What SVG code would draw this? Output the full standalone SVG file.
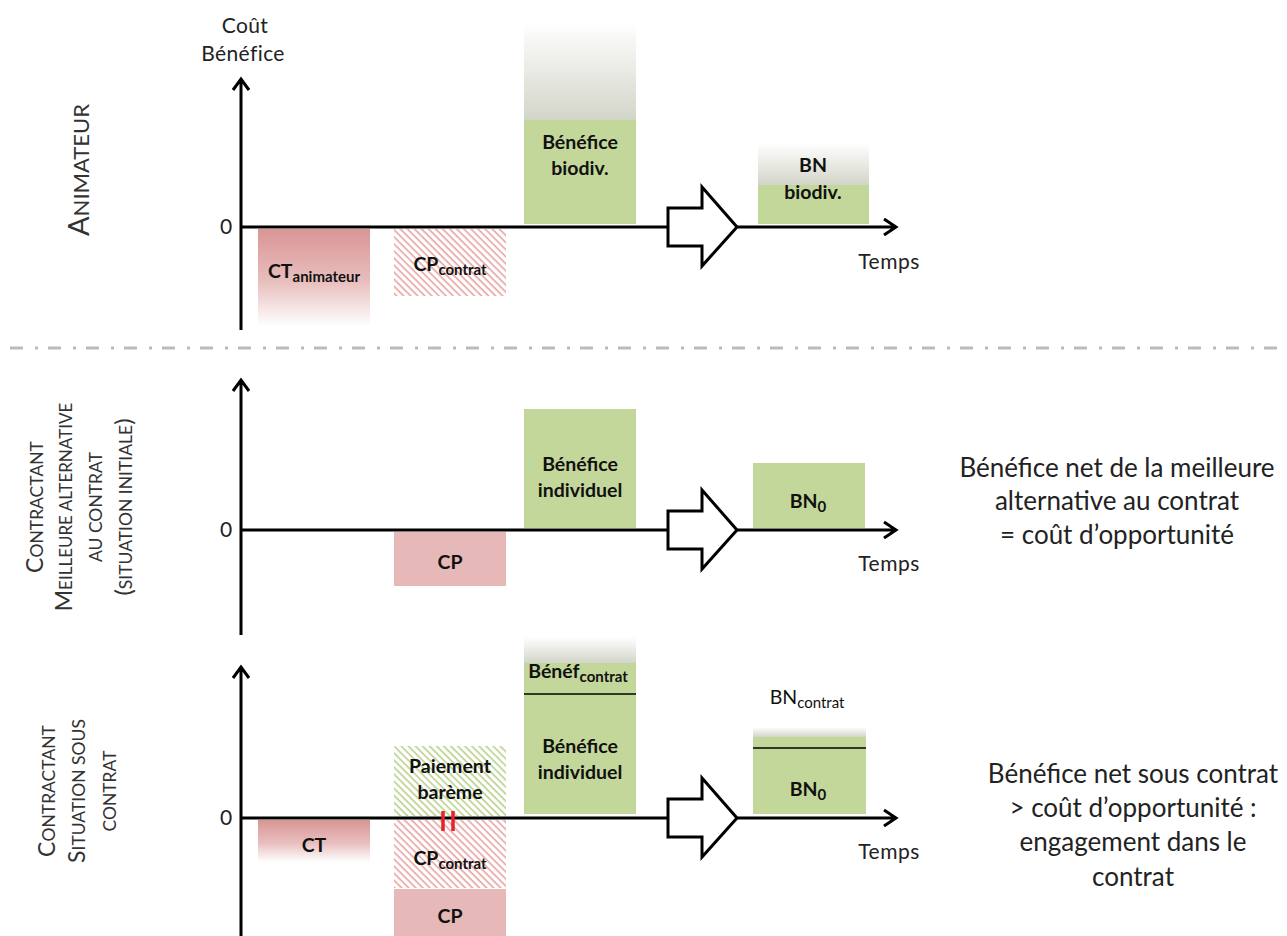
<svg xmlns="http://www.w3.org/2000/svg" width="1287" height="936" viewBox="0 0 1287 936">
<style>
text{font-family:Lato,"Liberation Sans",sans-serif;fill:#111}
.lbl{font-size:21px;fill:#222}
.b{font-weight:bold;font-size:19.5px;text-anchor:middle}
.n{font-weight:normal}
.sub{font-size:15px}
.side{font-size:26px;text-anchor:middle;fill:#222}
.rot{fill:#333;text-anchor:middle}
.ax{stroke:#000;stroke-width:3;fill:none}
.blk{stroke:#000;stroke-width:3;fill:#fff;stroke-linejoin:miter}
.green{fill:#c4d79b}
.red{fill:#e6b8b7}
</style>
<defs>
<linearGradient id="redFade" x1="0" y1="0" x2="0" y2="1"><stop offset="0" stop-color="#d99594"/><stop offset="0.55" stop-color="#e8bfbe"/><stop offset="1" stop-color="#ffffff"/></linearGradient>
<linearGradient id="grayFade" x1="0" y1="0" x2="0" y2="1"><stop offset="0" stop-color="#ffffff"/><stop offset="1" stop-color="#d3d5c9"/></linearGradient>
<pattern id="hatchRed" width="5" height="5" patternUnits="userSpaceOnUse" patternTransform="rotate(-45)"><rect width="5" height="5" fill="#fff"/><line x1="1.2" y1="0" x2="1.2" y2="5" stroke="#e6a3a2" stroke-width="1.6"/></pattern>
<pattern id="hatchGreen" width="5" height="5" patternUnits="userSpaceOnUse" patternTransform="rotate(-45)"><rect width="5" height="5" fill="#fff"/><line x1="1.2" y1="0" x2="1.2" y2="5" stroke="#b9d08a" stroke-width="1.6"/></pattern>
</defs>

<!-- Side labels -->
<g id="label-animateur">
<text class="rot" transform="translate(89,170) rotate(-90)"><tspan font-size="29">A</tspan><tspan font-size="22">NIMATEUR</tspan></text>
</g>
<g id="label-contractant-initial">
<text class="rot" transform="translate(43,507) rotate(-90)"><tspan font-size="23">C</tspan><tspan font-size="17.5">ONTRACTANT</tspan></text>
<text class="rot" transform="translate(72,507) rotate(-90)"><tspan font-size="23">M</tspan><tspan font-size="17">EILLEURE ALTERNATIVE</tspan></text>
<text class="rot" transform="translate(102,507) rotate(-90)" font-size="17.5">AU CONTRAT</text>
<text class="rot" transform="translate(132,507) rotate(-90)"><tspan font-size="24">(</tspan><tspan font-size="17.5">SITUATION INITIALE</tspan><tspan font-size="24">)</tspan></text>
</g>
<g id="label-contractant-contrat">
<text class="rot" transform="translate(55,791) rotate(-90)"><tspan font-size="23">C</tspan><tspan font-size="17.5">ONTRACTANT</tspan></text>
<text class="rot" transform="translate(85,791) rotate(-90)"><tspan font-size="23">S</tspan><tspan font-size="17.5">ITUATION SOUS</tspan></text>
<text class="rot" transform="translate(116,791) rotate(-90)" font-size="17.5">CONTRAT</text>
</g>

<!-- separator -->
<line x1="10" y1="348" x2="1287" y2="348" stroke="#bdbbba" stroke-width="3" stroke-dasharray="13 12 3 10"/>

<!-- ===== Top panel ===== -->
<g id="axis-labels-top">
<text class="lbl" x="245" y="33" text-anchor="middle" letter-spacing="0.4">Coût</text>
<text class="lbl" x="243" y="61" text-anchor="middle" letter-spacing="0.4">Bénéfice</text>
<text class="lbl" x="226" y="234" text-anchor="middle">0</text>
<text class="lbl" x="889" y="269" text-anchor="middle" letter-spacing="0.5">Temps</text>
</g>
<g id="ct-animateur">
<rect x="258" y="229" width="112" height="97" fill="url(#redFade)"/>
<text class="b" x="314" y="278" font-size="20.5">CT<tspan class="sub" dy="4">animateur</tspan></text>
</g>
<g id="cp-contrat-top">
<rect x="394" y="229" width="112" height="67" fill="url(#hatchRed)"/>
<text class="b" x="450" y="271">CP<tspan class="sub" dy="4">contrat</tspan></text>
</g>
<g id="benefice-biodiv">
<rect x="524" y="22" width="112" height="98" fill="url(#grayFade)"/>
<rect class="green" x="524" y="120" width="112" height="104"/>
<text class="b" x="580" y="149">Bénéfice</text>
<text class="b" x="580" y="175">biodiv.</text>
</g>
<g id="bn-biodiv">
<rect x="758" y="143" width="111" height="42" fill="url(#grayFade)"/>
<rect class="green" x="758" y="185" width="111" height="39"/>
<text class="b" x="813" y="172" font-size="20">BN</text>
<text class="b" x="813" y="199" font-size="21">biodiv.</text>
</g>

<!-- ===== Middle panel ===== -->
<g id="axis-labels-mid">
<text class="lbl" x="226" y="537" text-anchor="middle">0</text>
<text class="lbl" x="889" y="571" text-anchor="middle" letter-spacing="0.5">Temps</text>
</g>
<g id="cp-mid">
<rect class="red" x="394" y="532" width="112" height="54"/>
<text class="b" x="450" y="569">CP</text>
</g>
<g id="benefice-individuel-mid">
<rect class="green" x="524" y="409" width="112" height="119"/>
<text class="b" x="580" y="471">Bénéfice</text>
<text class="b" x="580" y="497">individuel</text>
</g>
<g id="bn0-mid">
<rect class="green" x="753" y="463" width="112" height="65"/>
<text class="b" x="808" y="508" font-size="20.5">BN<tspan class="sub" dy="4">0</tspan></text>
</g>
<g id="note-opportunite">
<text class="side" x="1117" y="477">Bénéfice net de la meilleure</text>
<text class="side" x="1117" y="510">alternative au contrat</text>
<text class="side" x="1117" y="544">= coût d’opportunité</text>
</g>

<!-- ===== Bottom panel ===== -->
<g id="axis-labels-bot">
<text class="lbl" x="226" y="825" text-anchor="middle">0</text>
<text class="lbl" x="889" y="859" text-anchor="middle" letter-spacing="0.5">Temps</text>
</g>
<g id="ct-bot">
<rect x="258" y="820" width="112" height="42" fill="url(#redFade)"/>
<text class="b" x="314" y="852" font-size="20.5">CT</text>
</g>
<g id="paiement-bareme">
<rect x="394" y="746" width="112" height="70" fill="url(#hatchGreen)"/>
<text class="b" x="450" y="773">Paiement</text>
<text class="b" x="450" y="799">barème</text>
</g>
<g id="cp-contrat-bot">
<rect x="394" y="820" width="112" height="68" fill="url(#hatchRed)"/>
<text class="b" x="450" y="865">CP<tspan class="sub" dy="4">contrat</tspan></text>
</g>
<g id="cp-bot">
<rect class="red" x="394" y="889" width="112" height="47"/>
<text class="b" x="450" y="923">CP</text>
</g>
<g id="benefice-individuel-bot">
<rect x="524" y="637" width="112" height="26" fill="url(#grayFade)"/>
<rect class="green" x="524" y="663" width="112" height="151"/>
<line x1="524" y1="694" x2="636" y2="694" stroke="#000" stroke-width="1.5"/>
<text class="b" x="578" y="678">Bénéf<tspan class="sub" dy="4">contrat</tspan></text>
<text class="b" x="580" y="753">Bénéfice</text>
<text class="b" x="580" y="779">individuel</text>
</g>
<g id="bn-contrat">
<text class="b n" x="807" y="704" font-size="21">BN<tspan class="sub" dy="4">contrat</tspan></text>
<rect x="753" y="727" width="113" height="10" fill="url(#grayFade)"/>
<rect class="green" x="753" y="737" width="113" height="77"/>
<line x1="753" y1="748" x2="866" y2="748" stroke="#000" stroke-width="1.5"/>
<text class="b" x="808" y="796" font-size="20.5">BN<tspan class="sub" dy="4">0</tspan></text>
</g>
<g id="note-engagement">
<text class="side" x="1133" y="783">Bénéfice net sous contrat</text>
<text class="side" x="1133" y="817">&gt; coût d’opportunité :</text>
<text class="side" x="1133" y="851">engagement dans le</text>
<text class="side" x="1133" y="886">contrat</text>
</g>

<!-- ===== Connectors: axes and block arrows ===== -->
<g id="connectors">
<path class="ax" d="M241 330V79M233 90L241 79L249 90"/>
<path class="ax" d="M241 227H895M884 219L896 227L884 235"/>
<polygon class="blk" points="668,208 702,208 702,187 737,227 702,266 702,246 668,246"/>

<path class="ax" d="M241 635V380M233 391L241 380L249 391"/>
<path class="ax" d="M241 530H895M884 522L896 530L884 538"/>
<polygon class="blk" points="668,511 702,511 702,490 737,530 702,569 702,549 668,549"/>

<path class="ax" d="M241 936V667M233 678L241 667L249 678"/>
<path class="ax" d="M241 818H895M884 810L896 818L884 826"/>
<polygon class="blk" points="668,799 702,799 702,778 737,818 702,857 702,837 668,837"/>
<g id="equal-marks" stroke="#e8202a" stroke-width="3.5">
<line x1="443" y1="811" x2="443" y2="831"/>
<line x1="453" y1="811" x2="453" y2="831"/>
</g>
</g>
</svg>
